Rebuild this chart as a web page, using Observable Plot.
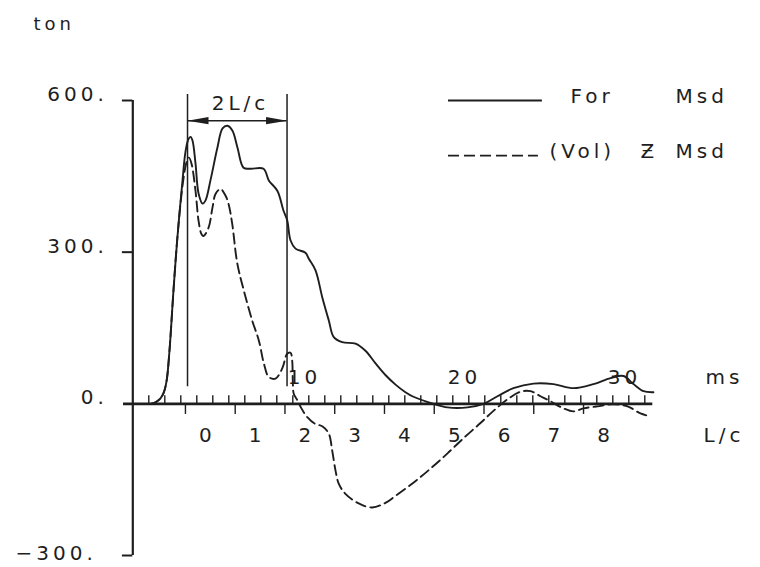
<!DOCTYPE html>
<html>
<head>
<meta charset="utf-8">
<script src="https://cdn.jsdelivr.net/npm/d3@7"></script>
<script src="https://cdn.jsdelivr.net/npm/@observablehq/plot@0.6"></script>
<style>
  html, body { margin: 0; padding: 0; background: #fff; }
  #chart svg text { letter-spacing: 4px; }
</style>
</head>
<body>
<div id="chart"></div>
<script>
// Measured force at the pile top (time in ms, force in ton)
const forceTime = [1.11, 1.42, 1.73, 1.92, 2.11, 2.29, 2.54, 2.79, 3.11, 3.29, 3.48, 3.61, 3.73, 3.92, 4.11, 4.36, 4.54, 4.86, 5.29, 5.61, 5.92, 6.23, 6.54, 6.92, 7.36, 8.17, 8.5, 9.04, 9.42, 9.65, 9.86, 10.17, 10.79, 11.0, 11.42, 11.84, 12.25, 12.56, 13.09, 13.92, 14.54, 15.17, 15.79, 16.42, 17.04, 17.54, 18.79, 19.67, 20.92, 21.92, 22.79, 23.79, 25.04, 26.29, 27.54, 28.79, 29.86, 30.67, 31.29, 31.92, 32.54];
const forceTon  = [0, 3, 11, 21, 45, 104, 223, 330, 443, 498, 524, 528, 521, 475, 416, 396, 402, 443, 507, 545, 550, 540, 507, 467, 465, 465, 442, 421, 382, 363, 323, 307, 299, 287, 264, 211, 165, 132, 122, 119, 105, 80, 57, 38, 23, 14, 0, -7, -7, 0, 15, 31, 40, 39, 31, 39, 51, 55, 39, 25, 23];

// Measured velocity times impedance Z (time in ms, ton)
const velTime = [1.11, 1.42, 1.73, 1.92, 2.11, 2.29, 2.54, 2.79, 3.11, 3.36, 3.51, 3.67, 3.92, 4.11, 4.29, 4.42, 4.73, 4.98, 5.17, 5.48, 5.79, 5.98, 6.21, 6.53, 6.94, 7.46, 7.88, 8.19, 8.5, 8.92, 9.34, 9.65, 9.86, 9.96, 10.0, 10.06, 10.29, 10.54, 10.92, 11.36, 11.86, 12.25, 12.46, 12.67, 12.87, 13.29, 14.12, 14.96, 15.79, 16.42, 17.54, 18.61, 19.67, 20.67, 21.73, 22.54, 23.42, 24.23, 24.86, 25.48, 26.11, 26.92, 27.54, 28.17, 29.04, 30.04, 30.92, 31.73, 32.36];
const velTon  = [0, 3, 11, 21, 45, 104, 223, 330, 432, 478, 487, 475, 421, 362, 336, 332, 348, 388, 415, 425, 412, 396, 357, 278, 224, 165, 125, 80, 53, 50, 70, 99, 101, 86, 46, 20, 7, -9, -27, -39, -45, -59, -92, -132, -158, -178, -197, -205, -196, -182, -156, -128, -98, -68, -38, -14, 9, 24, 25, 15, 5, -9, -15, -9, -5, -1, -5, -19, -25];

// Axis ticks and labels
const yTicks   = [-300, 0, 300, 600];
const msTicks  = [1, 2, 3, 4, 5, 6, 7, 8, 9, 10, 11, 12, 13, 14, 15, 16, 17, 18, 19, 20, 21, 22, 23, 24, 25, 26, 27, 28, 29, 30, 31, 32];
const msLabels = [10, 20, 30];
const lcLabels = [0, 1, 2, 3, 4, 5, 6, 7, 8];

// Secondary time axis in units of L/c
const lcStart = 3.29;   // ms at L/c = 0
const lcStep  = 3.11;   // ms per L/c
const waveStart = 3.42; // start of the 2L/c window (ms)

const force = forceTime.map((t, i) => ({t, v: forceTon[i]}));
const vel   = velTime.map((t, i) => ({t, v: velTon[i]}));

const ink = "#1e1e1e";

// slender filled arrowhead with its tip at the origin, pointing up
const head = {
  draw(ctx) {
    ctx.moveTo(0, 0);
    ctx.lineTo(3.6, 21);
    ctx.lineTo(-3.6, 21);
    ctx.closePath();
  }
};

const label = (text, x, y, opts = {}) =>
  Plot.text([text], {frameAnchor: "top-left", dx: x, dy: y, lineAnchor: "middle",
                     textAnchor: "start", fill: ink, ...opts});

const yLabel = d => `${d}.`.replace("-", "\u2212");

const chart = Plot.plot({
  width: 760,
  height: 567,
  margin: 0,
  style: {background: "#fff", fontFamily: "'DejaVu Sans', sans-serif", fontSize: "20px", color: ink},
  x: {domain: [0, 30], range: [132.3, 612.3], axis: null},
  y: {domain: [-300, 600], range: [555, 100], axis: null},
  marks: [
    // vertical (force) axis
    Plot.ruleX([0], {y1: -300, y2: 600, stroke: ink, strokeWidth: 2.2}),
    Plot.ruleY(yTicks.filter(d => d !== 0), {x1: -0.65, x2: 0, stroke: ink, strokeWidth: 2}),
    Plot.text(yTicks.filter(d => d >= 0), {x: 0, y: d => d, text: yLabel,
                       textAnchor: "end", dx: -25, dy: -6, fill: ink}),
    Plot.text(yTicks.filter(d => d < 0), {x: 0, y: d => d, text: yLabel,
                       textAnchor: "end", dx: -36, dy: -2, fill: ink}),

    // time axis with ms ticks above and L/c ticks below
    Plot.ruleY([0], {x1: -0.58, x2: 32.5, stroke: ink, strokeWidth: 2.6}),
    Plot.ruleX(msTicks, {y1: 0, y2: 16, stroke: ink, strokeWidth: 1.4}),
    Plot.ruleX(lcLabels, {x: k => lcStart + k * lcStep, y1: 0, y2: -21, stroke: ink, strokeWidth: 1.4}),
    Plot.text(msLabels, {x: d => d, y: 0, text: d => String(d), textAnchor: "start",
                         dx: -5, dy: -26, fill: ink}),
    Plot.text(lcLabels, {x: k => lcStart + k * lcStep, y: 0, text: k => String(k),
                         dx: 22, dy: 32, fill: ink}),

    // 2L/c window
    Plot.ruleX([waveStart, waveStart + 2 * lcStep], {y1: 34, y2: 612, stroke: ink, strokeWidth: 1.5}),
    Plot.ruleY([560], {x1: waveStart, x2: waveStart + 2 * lcStep, stroke: ink, strokeWidth: 1.5}),
    Plot.dot([{x: waveStart, r: -90}, {x: waveStart + 2 * lcStep, r: 90}],
             {x: "x", y: 560, rotate: "r", symbol: head, fill: ink, stroke: "none"}),
    label("2L/c", 240, 103, {textAnchor: "middle"}),

    // records
    Plot.line(vel, {x: "t", y: "v", stroke: ink, strokeWidth: 1.9, strokeDasharray: "10,5",
                    curve: "catmull-rom"}),
    Plot.line(force, {x: "t", y: "v", stroke: ink, strokeWidth: 1.9, curve: "catmull-rom"}),

    // legend
    Plot.ruleY([600], {x1: 19.73, x2: 25.6, stroke: ink, strokeWidth: 1.8}),
    Plot.ruleY([491], {x1: 19.73, x2: 25.35, stroke: ink, strokeWidth: 1.8, strokeDasharray: "11,5"}),
    label("For", 570, 96),
    label("Msd", 675, 96),
    label("(Vol)", 549, 151),
    label("\u01B5", 640, 151),
    label("Msd", 675, 151),

    // units
    label("ton", 33, 24, {fontSize: 18}),
    label("ms", 705, 377),
    label("L/c", 703, 435)
  ]
});

document.getElementById("chart").appendChild(chart);
</script>
</body>
</html>
